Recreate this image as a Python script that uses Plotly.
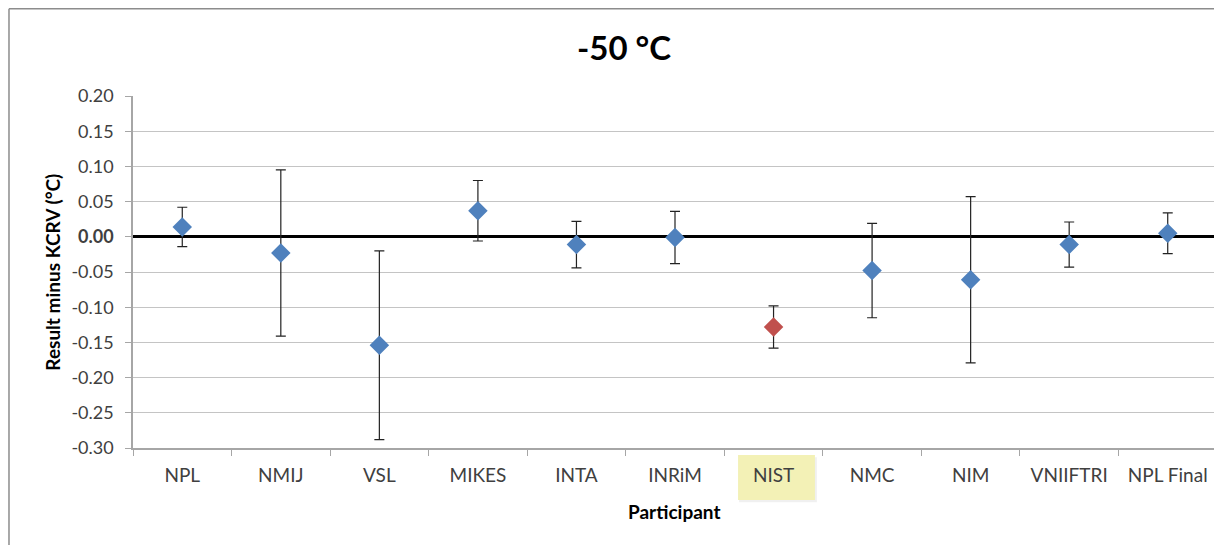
import plotly.graph_objects as go

participants = ["NPL", "NMIJ", "VSL", "MIKES", "INTA", "INRiM", "NIST", "NMC", "NIM", "VNIIFTRI", "NPL Final"]
values = [0.014, -0.023, -0.154, 0.037, -0.011, -0.001, -0.128, -0.048, -0.061, -0.011, 0.005]
uncert = [0.028, 0.118, 0.134, 0.043, 0.033, 0.037, 0.030, 0.067, 0.118, 0.032, 0.029]
highlight = "NIST"
ytick_vals = [0.20, 0.15, 0.10, 0.05, 0.00, -0.05, -0.10, -0.15, -0.20, -0.25, -0.30]

BLUE = "#4f81bd"
RED = "#c0504d"
colors = [RED if p == highlight else BLUE for p in participants]
ytick_text = ["<b>0.00</b>" if v == 0 else f"{v:.2f}" for v in ytick_vals]

FONT = "Lato, 'Open Sans', sans-serif"

fig = go.Figure()
fig.add_trace(go.Scatter(
    x=participants, y=values, mode="markers",
    marker=dict(symbol="diamond", size=15, color=colors, line=dict(width=0)),
    error_y=dict(type="data", array=uncert, visible=True, color="#222222", thickness=1.2, width=5),
    showlegend=False,
))

hi = participants.index(highlight)
shapes = [
    # soft shadow + highlight box behind NIST label
    dict(type="rect", xref="x", yref="paper", x0=hi - 0.35, x1=hi + 0.44, y0=-0.026, y1=-0.154,
         fillcolor="rgba(0,0,0,0.06)", line=dict(width=0), layer="below"),
    dict(type="rect", xref="x", yref="paper", x0=hi - 0.36, x1=hi + 0.42, y0=-0.02, y1=-0.148,
         fillcolor="#f3f1b6", line=dict(width=0), layer="below"),
    # outer chart border (left & top)
    dict(type="line", xref="paper", yref="paper", x0=-0.1144, x1=-0.1144, y0=1.2479, y1=-0.3,
         line=dict(color="#8c8c8c", width=1.5)),
    dict(type="line", xref="paper", yref="paper", x0=-0.1144, x1=1.01, y0=1.2479, y1=1.2479,
         line=dict(color="#8c8c8c", width=1.5)),
]

fig.update_layout(
    width=1214, height=537,
    margin=dict(l=125, r=5, t=88, b=97),
    paper_bgcolor="white", plot_bgcolor="white",
    font=dict(family=FONT, color="#404040"),
    shapes=shapes,
    annotations=[
        dict(text="<b>-50 °C</b>", xref="paper", yref="paper", x=0.4534, y=1.139,
             xanchor="center", yanchor="middle", showarrow=False,
             font=dict(size=33, color="black", family=FONT)),
        dict(text="<b>Result minus KCRV (°C)</b>", xref="paper", yref="paper", x=-0.075, y=0.5,
             xanchor="center", yanchor="middle", textangle=-90, showarrow=False,
             font=dict(size=19, color="black", family=FONT)),
        dict(text="<b>Participant</b>", xref="paper", yref="paper", x=0.4995, y=-0.179,
             xanchor="center", yanchor="middle", showarrow=False,
             font=dict(size=19, color="black", family=FONT)),
    ],
)

fig.update_xaxes(
    type="category", range=[-0.5, len(participants) - 0.5],
    showline=True, linecolor="#a6a6a6", linewidth=1.5,
    ticks="outside", tickson="boundaries", ticklen=6, tickcolor="#a6a6a6",
    ticklabelstandoff=9,
    showgrid=False, tickfont=dict(size=19, color="#404040", family=FONT),
)
fig.update_yaxes(
    range=[-0.30, 0.20], tickvals=ytick_vals, ticktext=ytick_text,
    showline=True, linecolor="#a6a6a6", linewidth=1.5,
    ticks="outside", ticklen=6, tickcolor="#a6a6a6", ticklabelstandoff=8,
    showgrid=True, gridcolor="#c4c4c4", gridwidth=1.2,
    zeroline=True, zerolinecolor="black", zerolinewidth=3,
    tickfont=dict(size=18, color="#404040", family=FONT),
)

fig.write_html("out.html")
